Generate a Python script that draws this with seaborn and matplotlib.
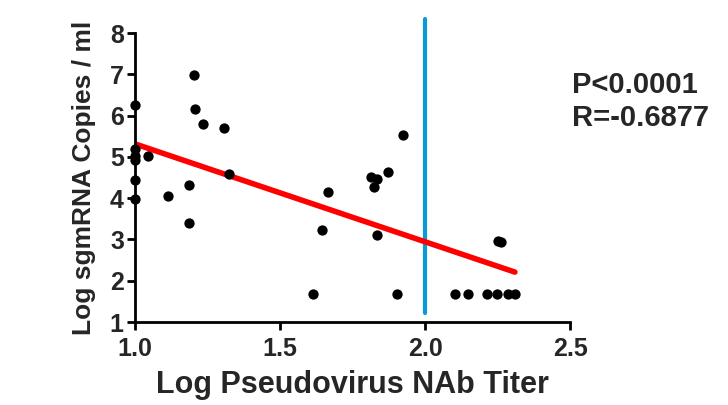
import matplotlib
matplotlib.use("Agg")
import matplotlib.pyplot as plt
import seaborn as sns
import pandas as pd

titer = [1.00, 1.00, 1.00, 1.00, 1.00, 1.00, 1.046, 1.115, 1.185, 1.185, 1.204, 1.206,
         1.236, 1.307, 1.325, 1.615, 1.644, 1.664, 1.813, 1.825, 1.833, 1.833, 1.873,
         1.902, 1.924, 2.103, 2.149, 2.213, 2.247, 2.253, 2.262, 2.287, 2.310]
copies = [6.25, 5.20, 5.03, 4.93, 4.43, 3.98, 5.03, 4.05, 4.31, 3.39, 6.98, 6.15,
          5.80, 5.69, 4.59, 1.67, 3.24, 4.16, 4.52, 4.27, 4.47, 3.11, 4.63,
          1.67, 5.52, 1.67, 1.67, 1.67, 1.67, 2.97, 2.95, 1.67, 1.67]
threshold = 2.0
stats_text = ["P<0.0001", "R=-0.6877"]
x_ticks = [1.0, 1.5, 2.0, 2.5]
y_ticks = [1, 2, 3, 4, 5, 6, 7, 8]

df = pd.DataFrame({"titer": titer, "copies": copies})

sns.set_theme(style="ticks")
plt.rcParams["font.family"] = ["Liberation Sans", "DejaVu Sans"]
plt.rcParams["font.weight"] = "bold"

fig = plt.figure(figsize=(7.28, 4.05), dpi=100)
ax = fig.add_axes([0.1854, 0.2049, 0.5976, 0.7136])

sns.regplot(data=df, x="titer", y="copies", ax=ax, ci=None, truncate=True,
            scatter_kws=dict(s=55, color="black", alpha=1, linewidths=0, zorder=3, clip_on=False),
            line_kws=dict(color="#ff0000", lw=4, zorder=2))
ax.axvline(threshold, ymin=0.03, ymax=1.05, color="#0c9ad6", lw=3, clip_on=False, zorder=1)

ax.set_xlim(1.0, 2.5)
ax.set_ylim(1, 8)
ax.set_xticks(x_ticks)
ax.set_xticklabels([f"{v:.1f}" for v in x_ticks])
ax.set_yticks(y_ticks)
ax.set_yticklabels([str(v) for v in y_ticks])
for s in ["top", "right"]:
    ax.spines[s].set_visible(False)
for s in ["left", "bottom"]:
    ax.spines[s].set_linewidth(2)
    ax.spines[s].set_color("black")
ax.tick_params(axis="both", which="major", length=6, width=2, color="black",
               labelsize=18, pad=2)
ax.tick_params(axis="x", pad=5)
for lab in ax.get_xticklabels() + ax.get_yticklabels():
    lab.set_fontweight("bold")
ax.set_xlabel("Log Pseudovirus NAb Titer", fontsize=22, fontweight="bold", labelpad=6)
ax.set_ylabel("Log sgmRNA Copies / ml", fontsize=19, fontweight="bold", labelpad=10)

fig.text(0.786, 0.79, stats_text[0], fontsize=21, fontweight="bold", ha="left", va="center")
fig.text(0.786, 0.708, stats_text[1], fontsize=21, fontweight="bold", ha="left", va="center")

fig.savefig("out.png", dpi=100)
